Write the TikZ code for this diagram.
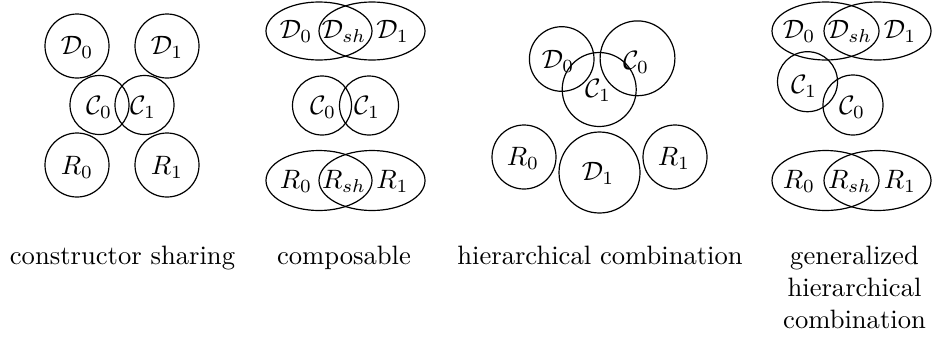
\documentclass[tikz,border=0pt]{standalone}
\begin{document}
\begin{tikzpicture}[x=0.376pt,y=-0.376pt,line width=0.45pt,
  lbl/.style={inner sep=0pt},
  captext/.style={anchor=base,inner sep=0pt,align=center}]
\useasboundingbox (0,0) rectangle (933,341);
% ---------- panel 1: constructor sharing
\draw (77,46) circle[radius=32];
\draw (167,46) circle[radius=32];
\draw (99.5,105) circle[radius=29.5];
\draw (144.5,105) circle[radius=29.5];
\draw (77,165) circle[radius=32];
\draw (167,165) circle[radius=32];
\node[lbl] (p1d0) at (77,47) {$\mathcal{D}_0$};
\node[lbl] (p1d1) at (167,47) {$\mathcal{D}_1$};
\node[lbl] (p1c0) at (99,107) {$\mathcal{C}_0$};
\node[lbl] (p1c1) at (143,107) {$\mathcal{C}_1$};
\node[lbl] (p1r0) at (77,167) {$R_0$};
\node[lbl] (p1r1) at (167,167) {$R_1$};
\node[captext] (cap1) at (122.5,264) {constructor sharing};
% ---------- panel 2: composable
\draw (319,31) ellipse[x radius=53,y radius=29];
\draw (372,31) ellipse[x radius=53,y radius=29];
\draw (322,105.5) circle[radius=29.5];
\draw (369,105.5) circle[radius=29.5];
\draw (319,180.5) ellipse[x radius=53,y radius=30];
\draw (372,180.5) ellipse[x radius=53,y radius=30];
\node[lbl] (p2d0) at (296,31) {$\mathcal{D}_0$};
\node[lbl] (p2ds) at (344,31) {$\mathcal{D}_{sh}$};
\node[lbl] (p2d1) at (392.5,31) {$\mathcal{D}_1$};
\node[lbl] (p2c0) at (323,107) {$\mathcal{C}_0$};
\node[lbl] (p2c1) at (367,107) {$\mathcal{C}_1$};
\node[lbl] (p2r0) at (296,181) {$R_0$};
\node[lbl] (p2rs) at (344,181) {$R_{sh}$};
\node[lbl] (p2r1) at (392.5,181) {$R_1$};
\node[captext] (cap2) at (344,264) {composable};
% ---------- panel 3: hierarchical combination
\draw (561.7,59) circle[radius=32.3];
\draw (637.5,58.3) circle[radius=37.4];
\draw (599.2,89.5) circle[radius=37];
\draw (524,157) circle[radius=32];
\draw (599.5,172.5) circle[radius=40.5];
\draw (675,157) circle[radius=32];
\node[lbl] (p3d0) at (558,61) {$\mathcal{D}_0$};
\node[lbl] (p3c0) at (636,62) {$\mathcal{C}_0$};
\node[lbl] (p3c1) at (598,90) {$\mathcal{C}_1$};
\node[lbl] (p3r0) at (523,158) {$R_0$};
\node[lbl] (p3d1) at (598,173) {$\mathcal{D}_1$};
\node[lbl] (p3r1) at (674,158) {$R_1$};
\node[captext] (cap3) at (600,264) {hierarchical combination};
% ---------- panel 4: generalized hierarchical combination
\draw (825.5,31) ellipse[x radius=53.5,y radius=29];
\draw (877.5,31) ellipse[x radius=53.5,y radius=29];
\draw (807.5,81.7) circle[radius=30];
\draw (853,105) circle[radius=30];
\draw (825.5,180.5) ellipse[x radius=53.5,y radius=30];
\draw (877.5,180.5) ellipse[x radius=53.5,y radius=30];
\node[lbl] (p4d0) at (799,31) {$\mathcal{D}_0$};
\node[lbl] (p4ds) at (850,31) {$\mathcal{D}_{sh}$};
\node[lbl] (p4d1) at (900,31) {$\mathcal{D}_1$};
\node[lbl] (p4c1) at (804,86) {$\mathcal{C}_1$};
\node[lbl] (p4c0) at (852,107) {$\mathcal{C}_0$};
\node[lbl] (p4r0) at (799,181) {$R_0$};
\node[lbl] (p4rs) at (850,181) {$R_{sh}$};
\node[lbl] (p4r1) at (900,181) {$R_1$};
\node[captext,anchor=north] (cap4) at (854.5,245.5) {generalized\\hierarchical\\combination};
\end{tikzpicture}
\end{document}
